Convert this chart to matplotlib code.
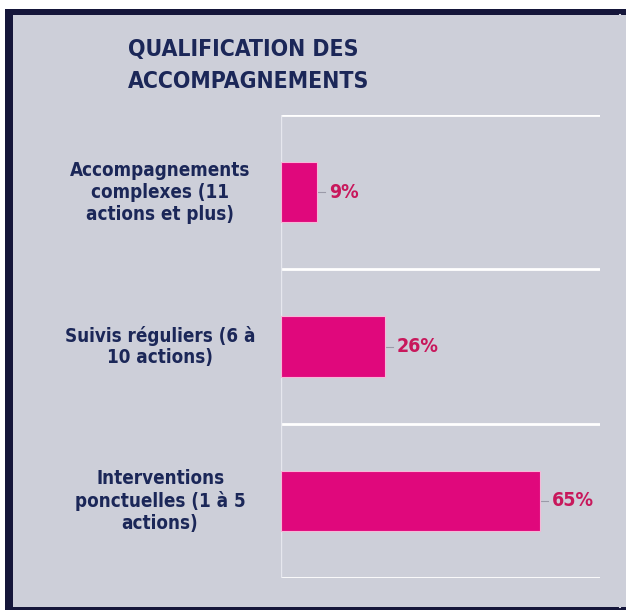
import matplotlib.pyplot as plt
import matplotlib.patches as mpatches
import matplotlib.transforms as mtransforms

# Data
categories = ['Accompagnements\ncomplexes (11\nactions et plus)',
              'Suivis réguliers (6 à\n10 actions)',
              'Interventions\nponctuelles (1 à 5\nactions)']
values = [9, 26, 65]
value_labels = ['9%', '26%', '65%']
title = 'QUALIFICATION DES\nACCOMPAGNEMENTS'

navy = '#1b2758'
pink = '#e0087c'
pink_txt = '#c8185c'
bg = '#cdcfd9'
font = ['DejaVu Sans']

fig = plt.figure(figsize=(6.26, 6.10), dpi=100)
fig.patch.set_facecolor('white')

# frame: dark border (left, top, bottom) around a light lavender panel
W, H = 626, 610
fig.patches.append(mpatches.Rectangle((5 / W, 0), (W - 5) / W, (H - 9) / H,
                                      transform=fig.transFigure, facecolor='#15163a',
                                      edgecolor='none', zorder=-2))
fig.patches.append(mpatches.Rectangle((13 / W, 3 / H), (W - 13) / W, (H - 18) / H,
                                      transform=fig.transFigure, facecolor=bg,
                                      edgecolor='none', zorder=-1))
fig.lines.append(plt.Line2D([620 / W, 620 / W], [3 / H, 1 - 15 / H], transform=fig.transFigure,
                            color='#dcdde6', lw=1.5, zorder=-1))

ax = fig.add_axes([281 / W, 1 - 578 / H, 319 / W, 463 / H])
ax.set_facecolor('none')
ypos = list(range(len(values)))
ax.barh(ypos, values, height=0.39, color=pink, edgecolor='#f5b8d8', linewidth=0.8, zorder=3)
ax.set_xlim(0, 80)
ax.set_ylim(2.5, -0.5)

# white separators between categories
for b in [-0.5, 0.5, 1.5, 2.5]:
    ax.axhline(b, color='white', lw=2, zorder=1)
ax.axvline(0, color='#e6e7ee', lw=1, zorder=1)

trans = mtransforms.blended_transform_factory(ax.transAxes, ax.transData)
for y, cat, v, lab in zip(ypos, categories, values, value_labels):
    ax.text(-0.379, y, cat, transform=trans, ha='center', va='center',
            fontsize=13.5, fontweight='bold', color=navy, family=font, linespacing=1.2,
            fontstretch='condensed')
    ax.plot([v, v + 2], [y, y], color='#9a9aa8', lw=0.8, zorder=2)
    ax.text(v + 3, y, lab, ha='left', va='center', fontsize=14,
            fontweight='bold', color=pink_txt, family=font, fontstretch='condensed')

for s in ax.spines.values():
    s.set_visible(False)
ax.set_xticks([])
ax.set_yticks([])

fig.text(128 / W, 1 - 38 / H, title, ha='left', va='top', fontsize=16.5,
         fontweight='bold', color=navy, family=font, linespacing=1.5,
         fontstretch='condensed')

fig.savefig('out.png', dpi=100)
